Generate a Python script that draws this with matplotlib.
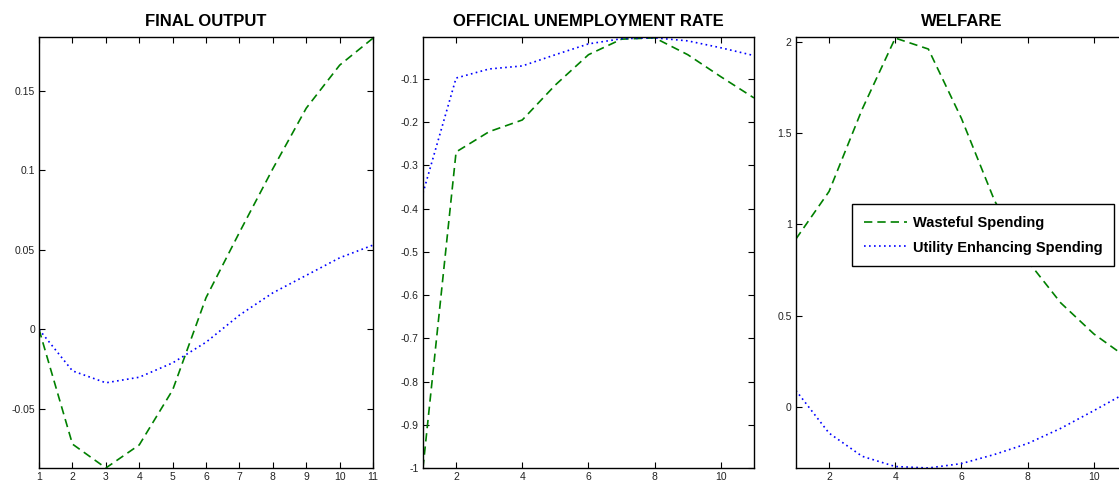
import matplotlib.pyplot as plt

plt.rcParams['font.family'] = ['Liberation Sans', 'DejaVu Sans']

periods = list(range(1, 12))

# FINAL OUTPUT
output_wasteful = [0.0, -0.072, -0.087, -0.0725, -0.038, 0.020, 0.061, 0.101, 0.139, 0.166, 0.183]
output_utility = [0.0, -0.026, -0.0335, -0.030, -0.021, -0.008, 0.009, 0.023, 0.034, 0.045, 0.053]

# OFFICIAL UNEMPLOYMENT RATE
unemp_wasteful = [-1.0, -0.269, -0.222, -0.195, -0.114, -0.044, -0.008, -0.005, -0.044, -0.095, -0.144]
unemp_utility = [-0.364, -0.098, -0.077, -0.070, -0.044, -0.019, -0.007, -0.005, -0.012, -0.028, -0.046]

# WELFARE
welfare_wasteful = [0.92, 1.18, 1.63, 2.02, 1.96, 1.58, 1.13, 0.80, 0.57, 0.40, 0.27]
welfare_utility = [0.09, -0.143, -0.27, -0.326, -0.334, -0.31, -0.26, -0.20, -0.117, -0.02, 0.08]

labels = ["Wasteful Spending", "Utility Enhancing Spending"]
green = (0, 0.5, 0)
blue = (0, 0, 1)

fig = plt.figure(figsize=(11.19, 4.84), dpi=100)
bottom, height = 0.0331, 0.8905
ax1 = fig.add_axes([0.0349, bottom, 0.2985, height])
ax2 = fig.add_axes([0.378, bottom, 0.2958, height])
ax3 = fig.add_axes([0.7113, bottom, 0.2958, height])

panels = [
    (ax1, "FINAL OUTPUT", output_wasteful, output_utility),
    (ax2, "OFFICIAL UNEMPLOYMENT RATE", unemp_wasteful, unemp_utility),
    (ax3, "WELFARE", welfare_wasteful, welfare_utility),
]

for ax, title, w, u in panels:
    ax.plot(periods, w, linestyle=(0, (5, 3)), color=green, linewidth=1.2, label=labels[0])
    ax.plot(periods, u, linestyle=(0, (1, 2)), color=blue, linewidth=1.2, label=labels[1])
    ax.set_title(title, fontsize=12, fontweight='bold', pad=8)
    ax.set_xlim(1, 11)
    ax.tick_params(direction='in', top=True, right=True, labelsize=7.5, length=4, width=0.8, pad=3,
                   labelcolor='#222222')
    for s in ax.spines.values():
        s.set_linewidth(1.0)

ax1.set_ylim(-0.087, 0.1837)
ax1.set_xticks(periods)
ax1.set_yticks([-0.05, 0, 0.05, 0.1, 0.15])
ax1.set_yticklabels(["-0.05", "0", "0.05", "0.1", "0.15"])

ax2.set_ylim(-1, -0.003)
ax2.set_xticks([2, 4, 6, 8, 10])
ax2.set_yticks([-1, -0.9, -0.8, -0.7, -0.6, -0.5, -0.4, -0.3, -0.2, -0.1])
ax2.set_yticklabels(["-1", "-0.9", "-0.8", "-0.7", "-0.6", "-0.5", "-0.4", "-0.3", "-0.2", "-0.1"])

ax3.set_ylim(-0.334, 2.026)
ax3.set_xticks([2, 4, 6, 8, 10])
ax3.set_yticks([0, 0.5, 1, 1.5, 2])
ax3.set_yticklabels(["0", "0.5", "1", "1.5", "2"])

leg = ax3.legend(loc='upper left', bbox_to_anchor=(0.169, 0.6125), fancybox=False,
                 edgecolor='black', framealpha=1, prop={'size': 10.5, 'weight': 'bold'},
                 handlelength=3.0, handletextpad=0.4, borderpad=0.8, labelspacing=0.75,
                 borderaxespad=0)
leg.get_frame().set_linewidth(1.0)

fig.savefig("out.png", dpi=100)
